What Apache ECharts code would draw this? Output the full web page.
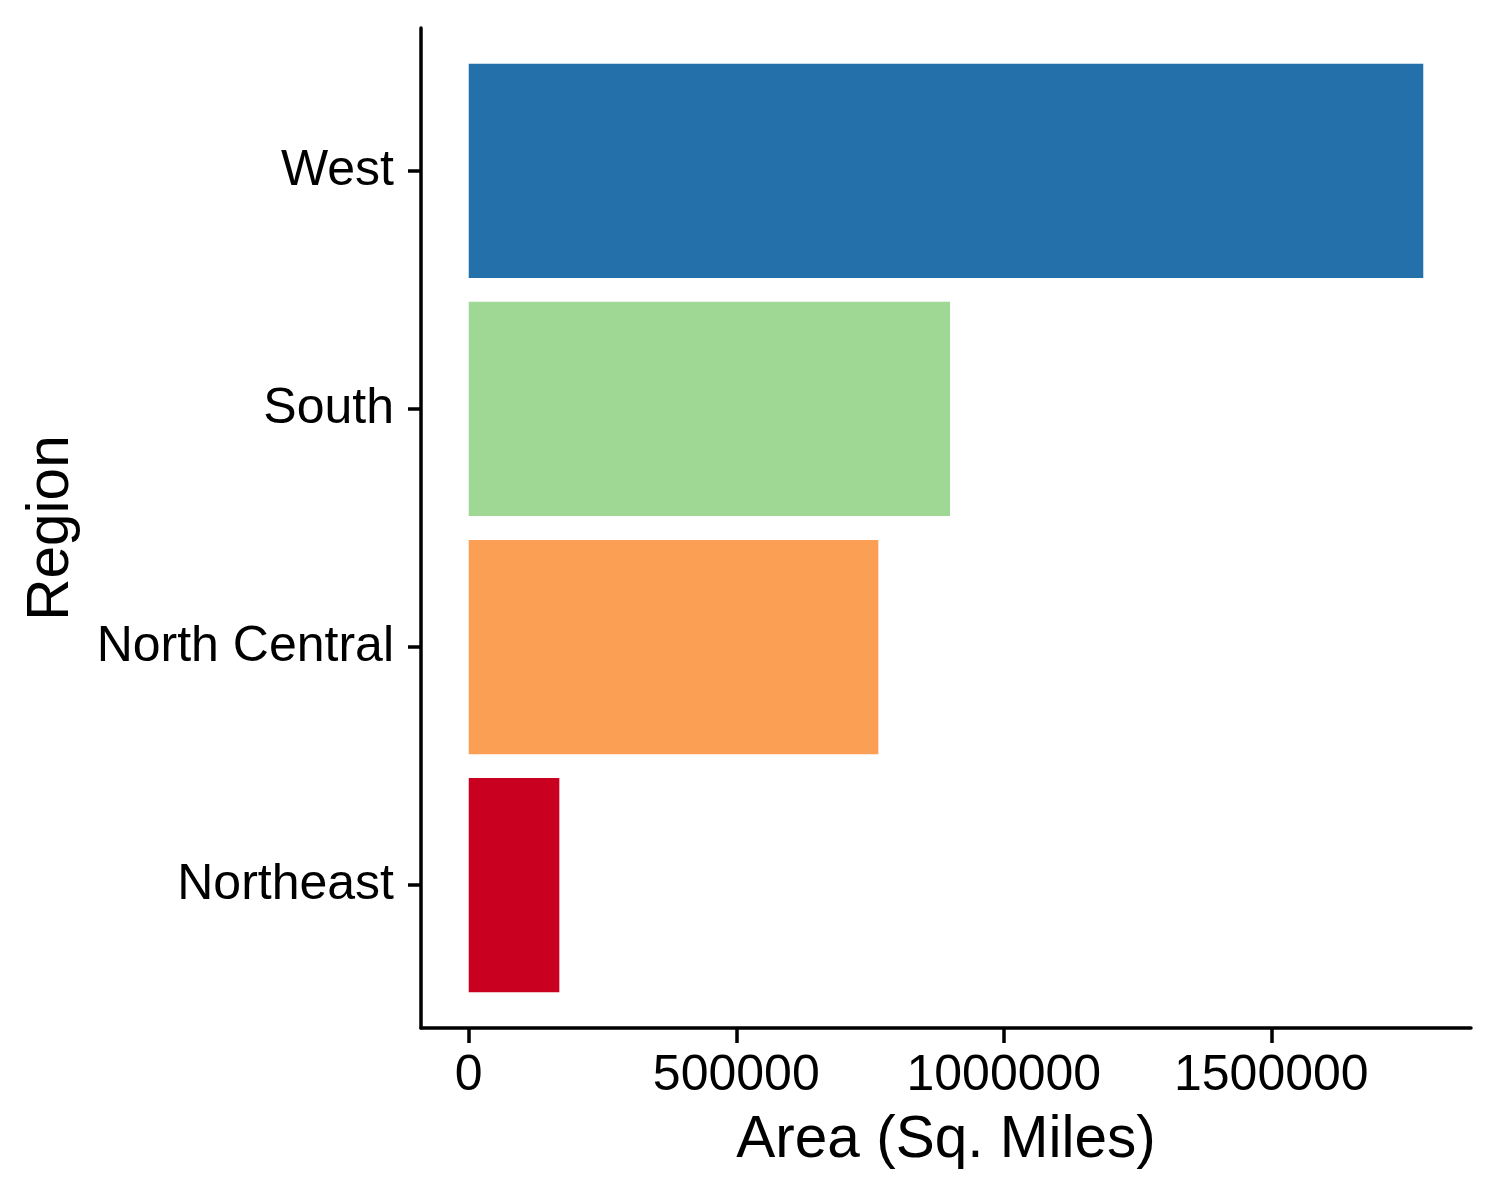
<!DOCTYPE html>
<html>
<head>
<meta charset="utf-8">
<script src="https://cdn.jsdelivr.net/npm/echarts@6/dist/echarts.min.js"></script>
<style>
html,body{margin:0;padding:0;background:#fff;}
#chart{width:1500px;height:1200px;}
</style>
</head>
<body>
<div id="chart"></div>
<script>
// Data (top to bottom)
const regions = ['West', 'South', 'North Central', 'Northeast'];
const areas = [1783960, 899556, 765530, 169353];
const xTicks = [0, 500000, 1000000, 1500000];
const barColors = ['#2470AA', '#9ED894', '#FA9F53', '#CA0020'];

const maxVal = Math.max.apply(null, areas);
const expand = maxVal * 0.05;
const yPositions = regions.map((r, i) => i + 1);
const seriesData = areas.map((v, i) => [v, yPositions[i]]);

const chart = echarts.init(document.getElementById('chart'), null, {renderer: 'canvas'});
const FONT = 'Liberation Sans, Arial, sans-serif';

chart.setOption({
  animation: false,
  backgroundColor: '#ffffff',
  grid: {left: 421, right: 29, top: 28, bottom: 172, containLabel: false},
  xAxis: {
    type: 'value',
    min: -expand,
    max: maxVal + expand,
    name: 'Area (Sq. Miles)',
    nameLocation: 'middle',
    nameGap: 83,
    nameTextStyle: {fontFamily: FONT, fontSize: 58.5, color: '#000'},
    axisLine: {show: true, onZero: false, lineStyle: {color: '#000', width: 3.5}},
    axisTick: {show: true, length: 15, lineStyle: {color: '#000', width: 3.5}, customValues: xTicks},
    axisLabel: {show: true, margin: 23, fontFamily: FONT, fontSize: 50, color: '#000', customValues: xTicks,
      formatter: v => String(Math.round(v))},
    splitLine: {show: false}
  },
  yAxis: {
    type: 'value',
    inverse: true,
    min: 0.4,
    max: 4.6,
    name: 'Region',
    nameLocation: 'middle',
    nameGap: 340,
    nameRotate: 90,
    nameTextStyle: {fontFamily: FONT, fontSize: 58.5, color: '#000'},
    axisLine: {show: true, onZero: false, lineStyle: {color: '#000', width: 3.5}},
    axisTick: {show: true, length: 13, lineStyle: {color: '#000', width: 3.5}, customValues: yPositions},
    axisLabel: {show: true, margin: 27, fontFamily: FONT, fontSize: 50, color: '#000', customValues: yPositions,
      padding: [5, 0, 0, 0],
      formatter: v => regions[Math.round(v) - 1] || ''},
    splitLine: {show: false}
  },
  series: [{
    type: 'custom',
    encode: {x: 0, y: 1},
    data: seriesData,
    renderItem: function (params, api) {
      const v = api.value(0);
      const pos = api.value(1);
      const p0 = api.coord([0, pos - 0.45]);
      const p1 = api.coord([v, pos + 0.45]);
      return {
        type: 'rect',
        shape: {
          x: Math.min(p0[0], p1[0]),
          y: Math.min(p0[1], p1[1]),
          width: Math.abs(p1[0] - p0[0]),
          height: Math.abs(p1[1] - p0[1])
        },
        style: {fill: barColors[params.dataIndex]}
      };
    }
  }]
});
</script>
</body>
</html>
